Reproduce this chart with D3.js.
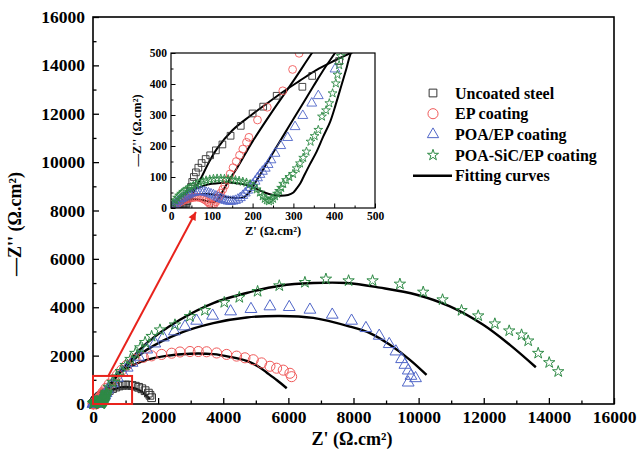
<!DOCTYPE html>
<html>
<head>
<meta charset="utf-8">
<script src="https://cdn.jsdelivr.net/npm/d3@7"></script>
<style>
  body { margin: 0; background: #fff; }
  text { font-family: "Liberation Serif", "Times New Roman", serif; font-weight: bold; fill: #000; }
</style>
</head>
<body>
<div id="chart"></div>
<script>
// series, [Z', -Z''] in ohm.cm2
const seriesNames = ["Uncoated steel", "EP coating", "POA/EP coating", "POA-SiC/EP coating"]
const seriesColors = ["#333333", "#f05a5a", "#5066c8", "#2e8a45"]

const uncoatedPts = [[3,2],[6,4],[9,6],[12,8],[15,9],[18,10],[21,11],[24,11],[27,10],[30,8],[33,7],[36,9],[38,14],[40,22],[42,32],[44,42],[46,54],[49,68],[52,84],[56,100],[61,115],[67,130],[75,145],[85,158],[96,170],[110,186],[126,205],[146,233],[171,265],[200,305],[226,327],[259,362],[322,391],[346,426],[412,474],
  [500,560],[600,640],[700,700],[800,745],[900,775],[1000,785],[1100,780],[1200,765],[1300,735],[1400,690],[1500,630],[1600,550],[1700,450],[1750,360],[1800,260]]
const epPts = [[4,4],[8,8],[12,12],[16,15],[20,18],[25,21],[30,24],[35,27],[40,29],[45,31],[50,33],[55,34],[60,35],[65,35],[70,34],[75,32],[80,29],[85,25],[90,20],[94,15],[98,11],[102,10],[106,13],[110,20],[114,28],[118,38],[122,48],[127,60],[132,73],[138,90],[145,110],[152,130],[160,150],[168,170],[176,190],[185,212],[191,228],[212,284],[236,325],[274,378],[298,447],[314,499],
  [400,650],[500,820],[620,1000],[750,1200],[880,1400],[1034,1600],[1290,1850],[1545,1930],[1801,1990],[2108,2050],[2415,2100],[2671,2150],[2978,2170],[3233,2170],[3489,2160],[3796,2110],[4103,2050],[4410,1980],[4666,1910],[4922,1830],[5178,1700],[5434,1560],[5638,1480],[5843,1400],[6048,1270],[6100,1130]]
const poaPts = [[4,5],[8,10],[12,15],[16,20],[20,25],[25,30],[30,34],[35,38],[40,42],[45,45],[50,48],[56,50],[62,52],[68,53],[74,53],[80,52],[86,50],[92,48],[98,45],[104,42],[110,38],[116,34],[122,30],[128,27],[134,24],[140,22],[146,21],[152,22],[158,24],[164,28],[170,33],[176,40],[182,48],[188,57],[194,66],[200,76],[206,86],[212,97],[218,108],[224,118],[231,128],[238,140],[245,155],[255,176],[269,201],[286,227],[304,262],[323,298],[345,338],[361,362],[402,448],
  [450,600],[600,850],[750,1080],[900,1300],[1050,1500],[1200,1700],[1400,1950],[1650,2250],[1900,2500],[2160,2750],[2500,3000],[2824,3205],[3183,3440],[3674,3648],[4226,3826],[4851,3924],[5434,4034],[6027,4006],[6662,3896],[7347,3689],[7941,3440],[8381,3136],[8790,2819],[9097,2474],[9302,2169],[9476,1852],[9578,1617],[9681,1382],[9763,1161],[9906,1064],[9680,884]]
const sicPts = [[5,15],[10,25],[15,33],[20,40],[25,46],[30,52],[36,57],[42,62],[48,67],[55,72],[62,77],[70,82],[78,86],[86,89],[95,92],[104,94],[113,95],[122,95],[131,94],[140,93],[149,92],[158,90],[167,88],[176,85],[185,82],[194,77],[202,70],[210,60],[218,50],[225,38],[230,30],[235,25],[240,22],[245,25],[250,30],[255,38],[260,46],[265,55],[270,65],[275,78],[282,90],[290,100],[299,110],[308,128],[316,144],[324,162],[332,182],[342,214],[352,232],[361,252],[370,295],[380,315],[388,338],[396,370],[404,402],[408,430],[412,461],[416,490],
  [480,700],[600,900],[720,1120],[850,1350],[1000,1600],[1150,1850],[1300,2100],[1450,2330],[1600,2550],[1800,2800],[2057,3067],[2517,3275],[2978,3620],[3438,3868],[4032,4200],[4493,4407],[5055,4656],[5721,4891],[6508,5029],[7153,5167],[7849,5098],[8586,5098],[9425,4960],[10141,4628],[10735,4311],[11318,3868],[11830,3648],[12341,3316],[12782,3026],[13161,2860],[13365,2611],[13672,2100],[14010,1713],[14287,1340]]

// fitting curves
const uncoatedFit = [[0,0],[10,8],[20,14],[30,18],[40,24],[50,40],[60,65],[75,100],[90,140],[112,190],[150,250],[194,297],[235,337],[275,375],[315,410],[356,445],[400,475],[439,499],[600,590],[800,680],[1000,710],[1200,680],[1400,590],[1550,460],[1650,330],[1750,200]]
const epFit = [[0,0],[10,9],[20,16],[30,22],[40,26],[50,28],[60,28],[70,27],[80,25],[90,22],[100,19],[108,20],[116,30],[125,50],[140,85],[160,125],[200,215],[250,315],[300,410],[345,499],[450,700],[600,950],[829,1300],[1136,1546],[1648,1824],[2200,1980],[2978,2080],[3695,2060],[4200,1950],[4718,1780],[5100,1530],[5333,1300],[5650,980],[5950,650]]
const poaFit = [[0,0],[10,10],[20,20],[30,28],[40,34],[50,39],[60,42],[70,44],[80,45],[90,45],[100,44],[110,42],[120,40],[130,37],[140,35],[150,33],[160,32],[170,32],[180,36],[190,48],[200,68],[215,100],[235,145],[260,200],[290,265],[320,330],[350,395],[376,450],[402,500],[550,800],[700,1100],[1000,1550],[1648,2238],[2671,2930],[3695,3345],[4718,3577],[5741,3640],[6764,3560],[7890,3200],[8504,2930],[9118,2445],[9732,1824],[10243,1202]]
const sicFit = [[0,0],[20,30],[40,50],[60,62],[80,72],[100,78],[120,81],[140,82],[160,80],[180,76],[200,68],[220,55],[240,45],[259,40],[287,42],[300,50],[308,63],[317,80],[325,101],[340,140],[357,182],[373,230],[390,278],[404,335],[418,397],[430,450],[441,500],[550,800],[700,1150],[1000,1600],[1648,2515],[2671,3482],[3695,4174],[4718,4590],[5741,4891],[6764,5002],[7788,5002],[8811,4810],[9937,4518],[10960,4035],[11983,3275],[12802,2445],[13600,1520]]

const mainTicks = [0, 2000, 4000, 6000, 8000, 10000, 12000, 14000, 16000]
const mainMinor = [1000, 3000, 5000, 7000, 9000, 11000, 13000, 15000]
const insetTicks = [0, 100, 200, 300, 400, 500]
const insetMinor = [50, 150, 250, 350, 450]

// zoom box (main units) and arrow target (inset units)
const zoomBox = [1200, 1160]
const arrowFrom = [470, 1160]
const arrowTo = [61, -13]

const allPts = [uncoatedPts, epPts, poaPts, sicPts]
const allFits = [uncoatedFit, epFit, poaFit, sicFit]
const symbols = [d3.symbolSquare, d3.symbolCircle, d3.symbolTriangle, d3.symbolStar]
const mainSizes = [60, 80, 60, 40]
const insetSizes = [45, 48, 42, 24]
const legendSizes = [60, 80, 55, 38]

const W = 638, H = 453
const svg = d3.select("#chart").append("svg").attr("width", W).attr("height", H)

const m = { left: 93, right: 614, top: 17, bottom: 404 }
const x = d3.scaleLinear().domain([0, 16000]).range([m.left, m.right])
const y = d3.scaleLinear().domain([0, 16000]).range([m.bottom, m.top])

// axes, ticks pointing inward
svg.append("g").attr("transform", `translate(0,${m.bottom})`)
  .call(d3.axisBottom(x).tickValues(mainMinor).tickSize(-3.5).tickFormat(""))
svg.append("g").attr("transform", `translate(${m.left},0)`)
  .call(d3.axisLeft(y).tickValues(mainMinor).tickSize(-3.5).tickFormat(""))
const xAx = svg.append("g").attr("transform", `translate(0,${m.bottom})`)
  .call(d3.axisBottom(x).tickValues(mainTicks).tickSize(-6).tickPadding(7).tickFormat(d3.format("d")))
const yAx = svg.append("g").attr("transform", `translate(${m.left},0)`)
  .call(d3.axisLeft(y).tickValues(mainTicks).tickSize(-6).tickPadding(8).tickFormat(d3.format("d")))
svg.selectAll(".domain").remove()
svg.selectAll(".tick line").attr("stroke", "#000").attr("stroke-width", 1.3)
xAx.selectAll("text").attr("font-size", "17.5px")
yAx.selectAll("text").attr("font-size", "17.5px")

svg.append("rect").attr("x", m.left).attr("y", m.top)
  .attr("width", m.right - m.left).attr("height", m.bottom - m.top)
  .attr("fill", "none").attr("stroke", "#000").attr("stroke-width", 1.6)

svg.append("text").attr("x", 352).attr("y", 445).attr("text-anchor", "middle")
  .attr("font-size", "18px").text("Z' (Ω.cm²)")
svg.append("text").attr("transform", "translate(21,224) rotate(-90)")
  .attr("text-anchor", "middle").attr("font-size", "18px").text("—Z'' (Ω.cm²)")

const line = (sx, sy) => d3.line().x(d => sx(d[0])).y(d => sy(d[1])).curve(d3.curveCatmullRom.alpha(0.5))

// main plot: fits then markers
allFits.forEach(f => {
  svg.append("path").datum(f).attr("d", line(x, y))
    .attr("fill", "none").attr("stroke", "#000").attr("stroke-width", 2.4)
})
allPts.forEach((pts, i) => {
  svg.append("g").selectAll("path").data(pts).join("path")
    .attr("transform", d => `translate(${x(d[0])},${y(d[1])})`)
    .attr("d", d3.symbol().type(symbols[i]).size(mainSizes[i]))
    .attr("fill", "none").attr("stroke", seriesColors[i]).attr("stroke-width", 1)
})

// red zoom box and arrow
const red = "#e8231c"
svg.append("rect").attr("x", x(0)).attr("y", y(zoomBox[1]))
  .attr("width", x(zoomBox[0]) - x(0)).attr("height", y(0) - y(zoomBox[1]))
  .attr("fill", "none").attr("stroke", red).attr("stroke-width", 2)

// inset
const im = { left: 171, right: 375, top: 53, bottom: 208 }
const ix = d3.scaleLinear().domain([0, 500]).range([im.left, im.right])
const iy = d3.scaleLinear().domain([0, 500]).range([im.bottom, im.top])

svg.append("defs").append("marker").attr("id", "head")
  .attr("viewBox", "0 0 10 10").attr("refX", 10).attr("refY", 5)
  .attr("markerWidth", 10).attr("markerHeight", 8).attr("markerUnits", "userSpaceOnUse")
  .attr("orient", "auto")
  .append("path").attr("d", "M0,0L10,5L0,10Z").attr("fill", red)
svg.append("line")
  .attr("x1", x(arrowFrom[0])).attr("y1", y(arrowFrom[1]))
  .attr("x2", ix(arrowTo[0])).attr("y2", iy(arrowTo[1]))
  .attr("stroke", red).attr("stroke-width", 2).attr("marker-end", "url(#head)")

svg.append("rect").attr("x", im.left).attr("y", im.top)
  .attr("width", im.right - im.left).attr("height", im.bottom - im.top).attr("fill", "#fff")
svg.select("defs").append("clipPath").attr("id", "insetClip")
  .append("rect").attr("x", im.left).attr("y", im.top)
  .attr("width", im.right - im.left).attr("height", im.bottom - im.top)

const ig = svg.append("g")
ig.append("g").attr("transform", `translate(0,${im.bottom})`)
  .call(d3.axisBottom(ix).tickValues(insetMinor).tickSize(-2.5).tickFormat(""))
ig.append("g").attr("transform", `translate(${im.left},0)`)
  .call(d3.axisLeft(iy).tickValues(insetMinor).tickSize(-2.5).tickFormat(""))
const ixAx = ig.append("g").attr("transform", `translate(0,${im.bottom})`)
  .call(d3.axisBottom(ix).tickValues(insetTicks).tickSize(-4.5).tickPadding(4))
const iyAx = ig.append("g").attr("transform", `translate(${im.left},0)`)
  .call(d3.axisLeft(iy).tickValues(insetTicks).tickSize(-4.5).tickPadding(4))
ig.selectAll(".domain").remove()
ig.selectAll(".tick line").attr("stroke", "#000")
ixAx.selectAll("text").attr("font-size", "11.5px")
iyAx.selectAll("text").attr("font-size", "11.5px")

const plotArea = ig.append("g").attr("clip-path", "url(#insetClip)")
allFits.forEach(f => {
  plotArea.append("path").datum(f.filter(d => d[0] <= 700)).attr("d", line(ix, iy))
    .attr("fill", "none").attr("stroke", "#000").attr("stroke-width", 2)
})
allPts.forEach((pts, i) => {
  plotArea.append("g").selectAll("path").data(pts.filter(d => d[0] <= 520 && d[1] <= 520)).join("path")
    .attr("transform", d => `translate(${ix(d[0])},${iy(d[1])})`)
    .attr("d", d3.symbol().type(symbols[i]).size(insetSizes[i]))
    .attr("fill", "none").attr("stroke", seriesColors[i]).attr("stroke-width", 0.9)
})
ig.append("rect").attr("x", im.left).attr("y", im.top)
  .attr("width", im.right - im.left).attr("height", im.bottom - im.top)
  .attr("fill", "none").attr("stroke", "#000").attr("stroke-width", 1.2)

ig.append("text").attr("x", (im.left + im.right) / 2).attr("y", 235).attr("text-anchor", "middle")
  .attr("font-size", "12.5px").text("Z' (Ω.cm²)")
ig.append("text").attr("transform", `translate(141,${(im.top + im.bottom) / 2}) rotate(-90)`)
  .attr("text-anchor", "middle").attr("font-size", "12.5px").text("—Z'' (Ω.cm²)")

// legend
const lg = svg.append("g").attr("transform", "translate(433,93)")
seriesNames.forEach((name, i) => {
  const row = lg.append("g").attr("transform", `translate(0,${i * 20.7})`)
  row.append("path").attr("d", d3.symbol().type(symbols[i]).size(legendSizes[i]))
    .attr("fill", "none").attr("stroke", seriesColors[i]).attr("stroke-width", 1)
  row.append("text").attr("x", 22).attr("dy", "0.35em").attr("font-size", "16px").text(name)
})
const fitRow = lg.append("g").attr("transform", `translate(0,${4 * 20.7})`)
fitRow.append("line").attr("x1", -20).attr("x2", 19).attr("stroke", "#000").attr("stroke-width", 2.4)
fitRow.append("text").attr("x", 22).attr("dy", "0.35em").attr("font-size", "16px").text("Fitting curves")
</script>
</body>
</html>
